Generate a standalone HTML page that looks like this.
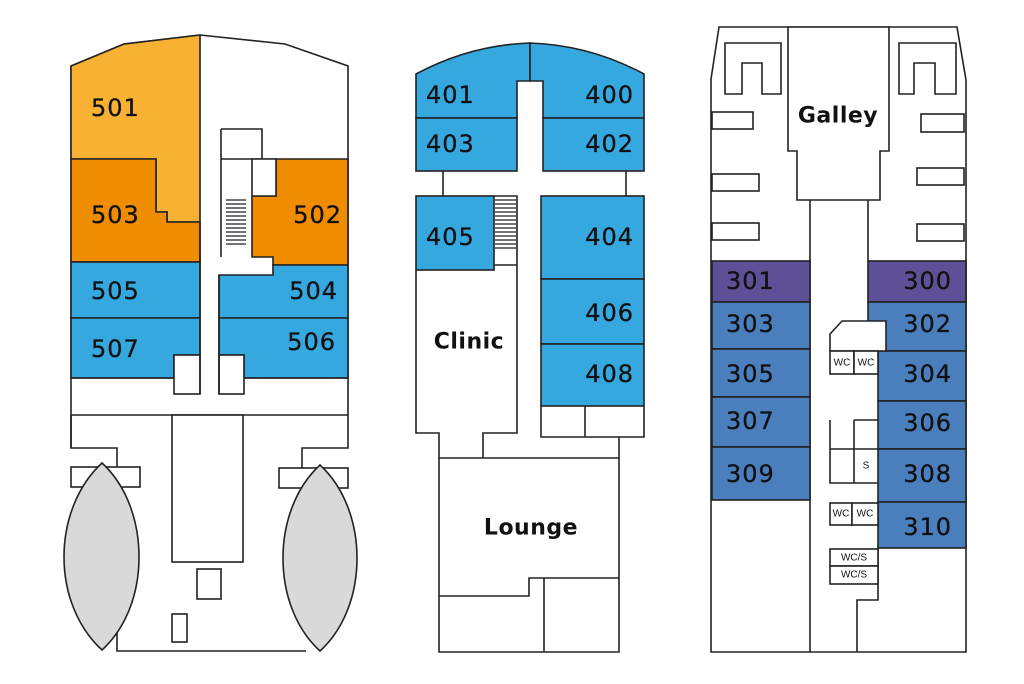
<!DOCTYPE html>
<html><head><meta charset="utf-8"><style>
html,body{margin:0;padding:0;background:#fff}
svg{display:block}
text{font-family:"DejaVu Sans","Liberation Sans",sans-serif;fill:#111;dominant-baseline:central}
.n{font-size:24px;letter-spacing:1px;stroke:#111;stroke-width:0.3}
.b{font-size:22px;font-weight:bold;letter-spacing:0.5px}
.s{font-size:10px;font-family:"Liberation Sans",sans-serif}
</style></head><body>
<svg width="1024" height="684" viewBox="0 0 1024 684" xmlns="http://www.w3.org/2000/svg">
<g stroke="#222" stroke-width="1.6" fill="none" stroke-linejoin="miter">
<!-- LEFT DECK -->
<path d="M71,66 L124,44 L200,35 L285,44 L348,66 L348,448 L302,448 L302,468 M71,66 L71,448 L117,448 L117,651 L306,651" fill="#fff"/>
<path d="M200,35 L200,222 L167,222 L167,212 L156,212 L156,159 L71,159 L71,66 L124,44 Z" fill="#F8B133"/>
<path d="M71,159 L156,159 L156,212 L167,212 L167,222 L200,222 L200,262 L71,262 Z" fill="#F08C00"/>
<path d="M252,159 L348,159 L348,265 L273,265 L273,257 L252,257 L252,196 L276,196 L276,159" fill="#F08C00"/>
<path d="M219,275 L273,275 L273,265 L348,265 L348,318 L219,318 Z" fill="#35A8E0"/>
<rect x="71" y="262" width="129" height="56" fill="#35A8E0"/>
<path d="M71,318 L200,318 L200,355 L174,355 L174,378 L71,378 Z" fill="#35A8E0"/>
<path d="M219,318 L348,318 L348,378 L244,378 L244,355 L219,355 Z" fill="#35A8E0"/>
<rect x="174" y="355" width="26" height="39" fill="#fff"/>
<rect x="219" y="355" width="25" height="39" fill="#fff"/>
<path d="M71,378 L174,378 M244,378 L348,378 M200,222 L200,394 M219,275 L219,394 M221,129 L221,257 M221,129 L262,129 L262,159 M221,159 L252,159"/>
<path d="M252,159 L276,159 L276,196 L252,196 Z" fill="#fff"/>
<path d="M71,415 L348,415 M71,415 L71,448"/>
<g stroke-width="1.2"><path d="M226,200h20M226,204h20M226,208h20M226,212h20M226,216h20M226,220h20M226,224h20M226,228h20M226,232h20M226,236h20M226,240h20M226,244h20"/></g>
<rect x="172" y="415" width="71" height="147" fill="#fff"/>
<rect x="197" y="569" width="24" height="30" fill="#fff"/>
<rect x="172" y="614" width="15" height="28" fill="#fff"/>
<rect x="71" y="467" width="69" height="20" fill="#fff"/>
<rect x="279" y="468" width="69" height="20" fill="#fff"/>
<path d="M102,463 C126,485 139,520 139,557 C139,594 126,628 102,650 C78,628 64,594 64,557 C64,520 78,485 102,463 Z" fill="#D9D9D9"/>
<path d="M320,465 C344,487 357,522 357,558 C357,595 344,629 320,651 C296,629 283,595 283,558 C283,522 296,487 320,465 Z" fill="#D9D9D9"/>

<!-- MIDDLE DECK -->
<path d="M416,74 Q470,45 530,43 L530,81 L517,81 L517,118 L416,118 Z" fill="#35A8E0"/>
<path d="M644,74 Q590,45 530,43 L530,81 L543,81 L543,118 L644,118 Z" fill="#35A8E0"/>
<rect x="416" y="118" width="101" height="53" fill="#35A8E0"/>
<rect x="543" y="118" width="101" height="53" fill="#35A8E0"/>
<path d="M443,171 L443,196 M626,171 L626,196"/>
<rect x="416" y="196" width="78" height="74" fill="#35A8E0"/>
<path d="M494,196 L517,196 L517,433 L483,433 L483,458 M494,265 L517,265 M416,270 L416,433 L439,433 L439,458"/>
<g stroke-width="1.2"><path d="M495,200h21M495,204h21M495,208h21M495,212h21M495,216h21M495,220h21M495,224h21M495,228h21M495,232h21M495,236h21M495,240h21M495,244h21M495,248h21"/></g>
<rect x="541" y="196" width="103" height="83" fill="#35A8E0"/>
<rect x="541" y="279" width="103" height="65" fill="#35A8E0"/>
<rect x="541" y="344" width="103" height="62" fill="#35A8E0"/>
<path d="M541,406 L541,437 L644,437 L644,406 M585,406 L585,437 M619,437 L619,458"/>
<path d="M439,458 L619,458 L619,652 L439,652 Z" fill="#fff"/>
<path d="M619,578 L529,578 L529,596 L439,596 M544,578 L544,652"/>

<!-- RIGHT DECK -->
<path d="M719,27 L957,27 L966,80 L966,652 L711,652 L711,79 Z" fill="#fff"/>
<path d="M788,27 L889,27 L889,151 L880,151 L880,200 L797,200 L797,151 L788,151 Z" fill="#fff"/>
<path d="M725,43 L781,43 L781,94 L762,94 L762,63 L742,63 L742,94 L725,94 Z"/>
<path d="M899,43 L956,43 L956,94 L935,94 L935,63 L914,63 L914,94 L899,94 Z"/>
<rect x="712" y="112" width="41" height="17"/>
<rect x="712" y="174" width="47" height="17"/>
<rect x="712" y="223" width="47" height="17"/>
<rect x="921" y="114" width="43" height="18"/>
<rect x="917" y="168" width="47" height="17"/>
<rect x="917" y="224" width="47" height="17"/>
<path d="M810,200 L810,652 M868,200 L868,261"/>
<rect x="712" y="261" width="98" height="41" fill="#5E5096"/>
<rect x="712" y="302" width="98" height="47" fill="#4A7EBD"/>
<rect x="712" y="349" width="98" height="48" fill="#4A7EBD"/>
<rect x="712" y="397" width="98" height="50" fill="#4A7EBD"/>
<rect x="712" y="447" width="98" height="53" fill="#4A7EBD"/>
<rect x="868" y="261" width="98" height="41" fill="#5E5096"/>
<rect x="868" y="302" width="98" height="49" fill="#4A7EBD"/>
<rect x="878" y="351" width="88" height="50" fill="#4A7EBD"/>
<rect x="878" y="401" width="88" height="48" fill="#4A7EBD"/>
<rect x="878" y="449" width="88" height="53" fill="#4A7EBD"/>
<rect x="878" y="502" width="88" height="46" fill="#4A7EBD"/>
<path d="M830,334 L842,321 L886,321 L886,351 L830,351 Z" fill="#fff"/>
<rect x="830" y="351" width="24" height="23" fill="#fff"/>
<rect x="854" y="351" width="24" height="23" fill="#fff"/>
<path d="M878,548 L878,600 L857,600 L857,652"/>
<path d="M830,420 L830,483 L878,483 M854,420 L854,483 M854,420 L878,420 M830,449 L878,449"/>
<rect x="830" y="503" width="22" height="22" fill="#fff"/>
<rect x="852" y="503" width="26" height="22" fill="#fff"/>
<rect x="830" y="549" width="48" height="17" fill="#fff"/>
<rect x="830" y="566" width="48" height="18" fill="#fff"/>
</g>

<!-- LABELS -->
<text class="n" x="91" y="108">501</text>
<text class="n" x="91" y="215">503</text>
<text class="n" x="342" y="215" text-anchor="end">502</text>
<text class="n" x="91" y="291">505</text>
<text class="n" x="338" y="291" text-anchor="end">504</text>
<text class="n" x="91" y="349">507</text>
<text class="n" x="336" y="342" text-anchor="end">506</text>

<text class="n" x="426" y="95">401</text>
<text class="n" x="634" y="95" text-anchor="end">400</text>
<text class="n" x="426" y="144">403</text>
<text class="n" x="634" y="144" text-anchor="end">402</text>
<text class="n" x="426" y="237">405</text>
<text class="n" x="634" y="237" text-anchor="end">404</text>
<text class="n" x="634" y="313" text-anchor="end">406</text>
<text class="n" x="634" y="374" text-anchor="end">408</text>
<text class="b" x="469" y="342" text-anchor="middle">Clinic</text>
<text class="b" x="531" y="528" text-anchor="middle">Lounge</text>

<text class="b" x="838" y="116" text-anchor="middle">Galley</text>
<text class="n" x="726" y="281">301</text>
<text class="n" x="952" y="281" text-anchor="end">300</text>
<text class="n" x="726" y="324">303</text>
<text class="n" x="952" y="324" text-anchor="end">302</text>
<text class="n" x="726" y="374">305</text>
<text class="n" x="952" y="374" text-anchor="end">304</text>
<text class="n" x="726" y="421">307</text>
<text class="n" x="952" y="423" text-anchor="end">306</text>
<text class="n" x="726" y="474">309</text>
<text class="n" x="952" y="474" text-anchor="end">308</text>
<text class="n" x="952" y="527" text-anchor="end">310</text>
<text class="s" x="842" y="363" text-anchor="middle">WC</text>
<text class="s" x="866" y="363" text-anchor="middle">WC</text>
<text class="s" x="866" y="466" text-anchor="middle">S</text>
<text class="s" x="841" y="514" text-anchor="middle">WC</text>
<text class="s" x="865" y="514" text-anchor="middle">WC</text>
<text class="s" x="854" y="558" text-anchor="middle">WC/S</text>
<text class="s" x="854" y="575" text-anchor="middle">WC/S</text>
</svg>
</body></html>
